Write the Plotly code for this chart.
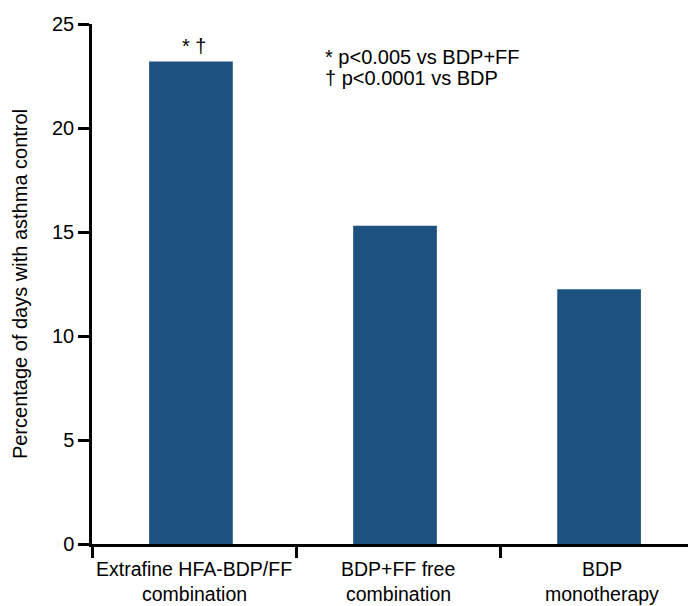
import plotly.graph_objects as go

categories = ["Extrafine HFA-BDP/FF<br>combination", "BDP+FF free<br>combination", "BDP<br>monotherapy"]
values = [23.2, 15.3, 12.25]
y_ticks = [0, 5, 10, 15, 20, 25]
bar_marks = ["* \u2020", "", ""]
stat_notes = ["* p<0.005 vs BDP+FF", "\u2020 p<0.0001 vs BDP"]
y_title = "Percentage of days with asthma control"

FONT = "Liberation Sans, Arial, sans-serif"
BAR_COLOR = "#1d5280"

line1 = [c.split("<br>")[0] for c in categories]
line2 = [c.split("<br>")[1] for c in categories]

fig = go.Figure()
fig.add_trace(go.Bar(
    x=line1, y=values, width=0.41, offset=-0.22,
    marker=dict(color=BAR_COLOR, line=dict(width=0)),
    showlegend=False, hoverinfo="skip",
))

annotations = []
for cat, v, m in zip(line1, values, bar_marks):
    if m:
        annotations.append(dict(x=cat, y=v, xref="x", yref="y", text=m, showarrow=False,
                                yanchor="bottom", xanchor="center", xshift=0, yshift=2,
                                font=dict(family=FONT, size=20, color="black")))
for cat, t in zip(line1, line2):
    annotations.append(dict(x=cat, y=0, xref="x", yref="y", text=t, showarrow=False,
                            yanchor="top", xanchor="center", yshift=-37,
                            font=dict(family=FONT, size=19.5, color="black")))
for i, t in enumerate(stat_notes):
    annotations.append(dict(x=0.382, y=0.9615 - i * 0.041, xref="paper", yref="paper", text=t,
                            showarrow=False, xanchor="left", yanchor="top", align="left",
                            font=dict(family=FONT, size=20, color="black")))

fig.update_layout(
    width=688, height=598,
    margin=dict(l=84, r=0, t=16, b=62),
    paper_bgcolor="white", plot_bgcolor="white",
    font=dict(family=FONT, size=20, color="black"),
    annotations=annotations,
    xaxis=dict(
        type="category", range=[-0.5, 2.46], tickson="boundaries", tickangle=0,
        automargin=False, ticklabelstandoff=6,
        showline=True, linecolor="black", linewidth=2.5,
        ticks="outside", ticklen=11, tickwidth=2.5, tickcolor="black",
        showgrid=False, zeroline=False,
        tickfont=dict(family=FONT, size=19.5, color="black"),
    ),
    yaxis=dict(
        range=[0, 25], tickvals=y_ticks, automargin=False,
        showline=True, linecolor="black", linewidth=2.5,
        ticks="outside", ticklen=11, tickwidth=2.5, tickcolor="black",
        showgrid=False, zeroline=False,
        tickfont=dict(family=FONT, size=20, color="black"),
        title=dict(text=y_title, font=dict(family=FONT, size=20, color="black"), standoff=20),
    ),
)

fig.write_html("out.html")
